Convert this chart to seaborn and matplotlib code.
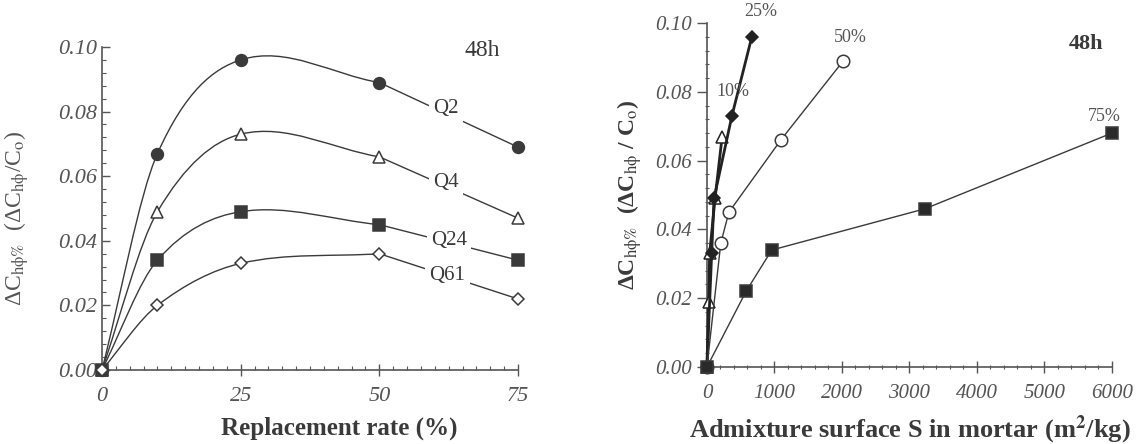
import numpy as np
import matplotlib
matplotlib.use("Agg")
import matplotlib.pyplot as plt
from matplotlib.path import Path
from matplotlib.patches import PathPatch
from matplotlib.ticker import MultipleLocator
import seaborn as sns

sns.set_style("ticks")
plt.rcParams["font.family"] = ["Liberation Serif", "DejaVu Serif"]
plt.rcParams["mathtext.fontset"] = "stix"

# left panel: replacement rate vs. delta C for each quartz filler
rate = [0, 10, 25, 50, 75]
q2 = [0, 0.067, 0.096, 0.089, 0.069]
q4 = [0, 0.049, 0.073, 0.066, 0.047]
q24 = [0, 0.034, 0.049, 0.045, 0.034]
q61 = [0, 0.020, 0.033, 0.036, 0.022]
left_names = ["Q2", "Q4", "Q24", "Q61"]
left_label_x = [62, 62, 62.6, 62.3]
left_label_y = [0.081, 0.058, 0.040, 0.0294]
rate_ticks = [0, 25, 50, 75]
dc_ticks = [0, 0.02, 0.04, 0.06, 0.08, 0.10]
dc_ticklabels = ["0.00", "0.02", "0.04", "0.06", "0.08", "0.10"]

# right panel: admixture surface S vs. delta C, one series per replacement rate
s_10 = [0, 25, 40, 120, 225]
dc_10 = [0, 0.019, 0.033, 0.049, 0.067]
s_25 = [0, 70, 105, 370, 665]
dc_25 = [0, 0.033, 0.049, 0.073, 0.096]
s_50 = [0, 205, 325, 1095, 2020]
dc_50 = [0, 0.036, 0.045, 0.066, 0.089]
s_75 = [0, 580, 960, 3230, 6000]
dc_75 = [0, 0.022, 0.034, 0.046, 0.068]
right_names = ["10%", "25%", "50%", "75%"]
right_label_x = [140, 800, 2130, 5890]
right_label_y = [0.080, 0.1032, 0.0957, 0.0727]
right_label_ha = ["left", "center", "center", "center"]
s_ticks = [0, 1000, 2000, 3000, 4000, 5000, 6000]

INK = "#3a3a3a"
GREY = "#555555"


def smooth_path(x, y):
    """Hermite-style bezier through the points (drawing only)."""
    x = np.asarray(x, float)
    y = np.asarray(y, float)
    m = np.empty(len(x))
    m[0] = (y[1] - y[0]) / (x[1] - x[0])
    m[-1] = (y[-1] - y[-2]) / (x[-1] - x[-2])
    m[1:-1] = (y[2:] - y[:-2]) / (x[2:] - x[:-2])
    verts = [(x[0], y[0])]
    codes = [Path.MOVETO]
    for i in range(len(x) - 1):
        h = (x[i + 1] - x[i]) / 3
        verts += [(x[i] + h, y[i] + m[i] * h),
                  (x[i + 1] - h, y[i + 1] - m[i + 1] * h),
                  (x[i + 1], y[i + 1])]
        codes += [Path.CURVE4] * 3
    return Path(verts, codes)


fig = plt.figure(figsize=(11.43, 4.44), dpi=100)
ax1 = fig.add_axes([0.0892, 0.1667, 0.364, 0.7275])
ax2 = fig.add_axes([0.6185, 0.1734, 0.3543, 0.7748])

# ---- left panel ----
left_styles = [("o", INK, 8.5), ("^", "white", 9), ("s", INK, 8.5), ("D", "white", 6)]
for q, (mk, fc, ms) in zip([q2, q4, q24, q61], left_styles):
    ax1.add_patch(PathPatch(smooth_path(rate[:4], q[:4]), fill=False,
                            ec=INK, lw=1.0, zorder=2))
    sns.lineplot(x=rate[3:], y=q[3:], ax=ax1, color=INK, lw=1.0,
                 sort=False, estimator=None, zorder=2)
    sns.lineplot(x=rate, y=q, ax=ax1, lw=0, marker=mk, markersize=ms,
                 markerfacecolor=fc, markeredgecolor=INK, markeredgewidth=1.1,
                 sort=False, estimator=None, clip_on=False, zorder=4)

for name, lx, ly in zip(left_names, left_label_x, left_label_y):
    ax1.text(lx, ly, name, fontsize=15, color=INK, ha="center", va="center",
             bbox=dict(fc="white", ec="none", pad=3), zorder=3)

ax1.text(68.5, 0.099, "48h", fontsize=17, color=INK, ha="center", va="center")
ax1.set_xlim(0, 75)
ax1.set_ylim(0, 0.10)
ax1.set_xticks(rate_ticks, [str(t) for t in rate_ticks], fontstyle="italic")
ax1.set_yticks(dc_ticks, dc_ticklabels, fontstyle="italic")
ax1.xaxis.set_minor_locator(MultipleLocator(2.5))
ax1.yaxis.set_minor_locator(MultipleLocator(0.004))
ax1.tick_params(axis="both", which="major", labelsize=16, labelcolor=GREY,
                color=GREY, length=6, width=1.0)
ax1.tick_params(axis="x", which="major", direction="inout", length=8, pad=8)
ax1.tick_params(axis="y", which="major", direction="in")
ax1.tick_params(axis="both", which="minor", direction="in", length=3,
                color=GREY, width=0.8)
ax1.set_xlabel("Replacement rate (%)", fontsize=18, fontweight="bold",
               color=INK)
ax1.xaxis.set_label_coords(0.57, -0.145)
ax1.set_ylabel(r"ΔC$_{\mathrm{h\phi\%}}$  (ΔC$_{\mathrm{h\phi}}$/C$_{\mathrm{o}}$)",
               fontsize=17, color=GREY)
ax1.yaxis.set_label_coords(-0.17, 0.47)
sns.despine(ax=ax1)
for sp in ax1.spines.values():
    sp.set_color(GREY)
    sp.set_linewidth(1.2)

# ---- right panel ----
right_series = [
    (s_10, dc_10, "^", "white", 8, 2.0, "#222222"),
    (s_25, dc_25, "D", "#222222", 6.5, 2.0, "#222222"),
    (s_50, dc_50, "o", "white", 9, 1.0, INK),
    (s_75, dc_75, "s", "#2a2a2a", 9, 1.0, INK),
]
for sx, sy, mk, fc, ms, lw, lc in right_series:
    sns.lineplot(x=sx, y=sy, ax=ax2, color=lc, lw=lw, marker=mk, markersize=ms,
                 markerfacecolor=fc, markeredgecolor=lc, markeredgewidth=1.1,
                 sort=False, estimator=None, clip_on=False, zorder=3)

for name, lx, ly, ha in zip(right_names, right_label_x, right_label_y, right_label_ha):
    ax2.text(lx, ly, name, fontsize=13, color=GREY, ha=ha, va="center")

ax2.text(5610, 0.0938, "48h", fontsize=16, fontweight="bold", color=INK,
         ha="center", va="center")
ax2.set_xlim(0, 6000)
ax2.set_ylim(0, 0.10)
ax2.set_xticks(s_ticks, [str(t) for t in s_ticks], fontstyle="italic")
ax2.set_yticks(dc_ticks, dc_ticklabels, fontstyle="italic")
ax2.xaxis.set_minor_locator(MultipleLocator(200))
ax2.yaxis.set_minor_locator(MultipleLocator(0.004))
ax2.tick_params(axis="both", which="major", labelsize=15, labelcolor=GREY,
                color=GREY, width=1.0)
ax2.tick_params(axis="x", which="major", direction="inout", length=8, pad=8)
ax2.tick_params(axis="y", which="major", direction="out", length=7)
ax2.tick_params(axis="both", which="minor", direction="inout", length=3,
                color=GREY, width=0.8)
ax2.set_xlabel(r"Admixture surface S in mortar (m$^{\mathbf{2}}$/kg)",
               fontsize=19, fontweight="bold", color=INK)
ax2.xaxis.set_label_coords(0.5, -0.135)
ax2.set_ylabel(r"ΔC$_{\mathrm{h\phi\%}}$  (ΔC$_{\mathrm{h\phi}}$ / C$_{\mathrm{o}}$)",
               fontsize=17, fontweight="bold", color=INK)
ax2.yaxis.set_label_coords(-0.155, 0.5)
sns.despine(ax=ax2)
for sp in ax2.spines.values():
    sp.set_color(GREY)
    sp.set_linewidth(1.2)

fig.savefig("out.png", dpi=100)
